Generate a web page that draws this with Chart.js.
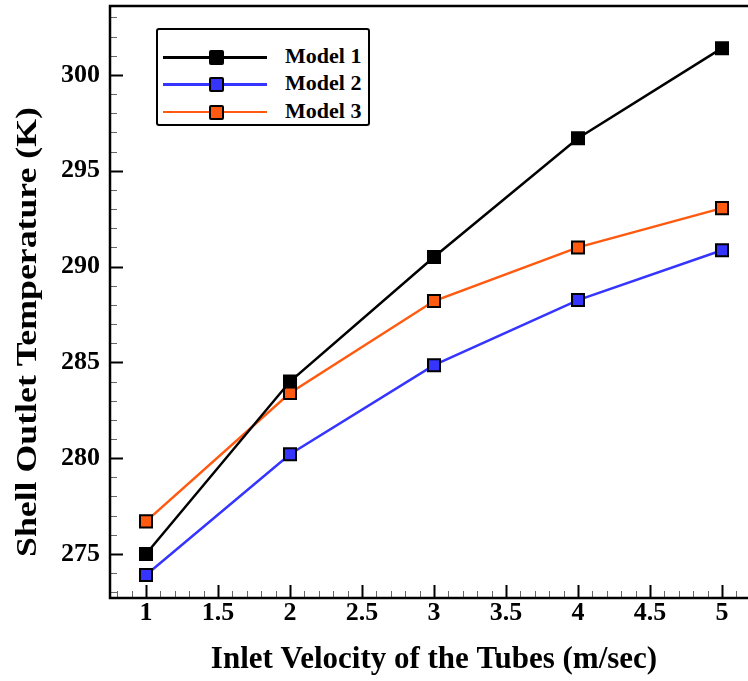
<!DOCTYPE html>
<html lang="en">
<head>
    <meta charset="UTF-8">
    <title>Shell Outlet Temperature vs Inlet Velocity</title>
    <script src="https://cdn.jsdelivr.net/npm/chart.js"></script>
    <style>
        html, body {
            margin: 0;
            padding: 0;
            background: #fff;
        }
        #wrap {
            position: relative;
            width: 748px;
            height: 681px;
            overflow: hidden;
        }
        #legend {
            position: absolute;
            left: 156px;
            top: 28px;
            width: 210px;
            height: 94px;
            border: 2px solid #000;
            border-radius: 3px;
            background: #fff;
            font-family: 'Liberation Serif', 'Times New Roman', serif;
            font-weight: bold;
            font-size: 22px;
        }
        .row {
            position: absolute;
            left: 0;
            height: 20px;
            width: 100%;
        }
        .row .ln {
            position: absolute;
            left: 5px;
            top: 9px;
            width: 104px;
            height: 2.5px;
        }
        .row .mk {
            position: absolute;
            left: 51px;
            top: 3px;
            width: 11px;
            height: 11px;
            border: 2px solid #000;
            border-radius: 2px;
        }
        .row .tx {
            position: absolute;
            left: 127px;
            top: -3px;
            line-height: 24px;
            color: #000;
        }
    </style>
</head>
<body>
<div id="wrap">
    <canvas id="tempChart" width="770" height="681"></canvas>
    <div id="legend"></div>
</div>
<script>
    // values
    const velocity = [1, 2, 3, 4, 5];
    const model1 = [275.0, 284.0, 290.5, 296.7, 301.4];
    const model2 = [273.9, 280.2, 284.85, 288.25, 290.85];
    const model3 = [276.7, 283.4, 288.2, 291.0, 293.05];

    const xTicks = [1, 1.5, 2, 2.5, 3, 3.5, 4, 4.5, 5];
    const yTicks = [275, 280, 285, 290, 295, 300];

    const xTitle = 'Inlet Velocity of the Tubes (m/sec)';
    const yTitle = 'Shell Outlet Temperature (K)';

    const serif = "'Liberation Serif', 'Times New Roman', serif";

    function pts(ys) {
        return velocity.map((x, i) => ({ x: x, y: ys[i] }));
    }

    // inward major / minor ticks, the plot frame and the y title
    const frameTicks = {
        id: 'frameTicks',
        beforeDatasetsDraw(chart) {
            let ctx = chart.ctx;
            let xs = chart.scales.x, ys = chart.scales.y;
            let area = chart.chartArea;
            ctx.save();
            for (let k = 8; k <= 52; k++) {
                let major = k % 5 === 0;
                let px = Math.round(xs.getPixelForValue(k / 10)) + 0.5;
                ctx.lineWidth = major ? 2 : 1;
                ctx.strokeStyle = major ? '#000' : '#666';
                ctx.beginPath();
                ctx.moveTo(px, area.bottom);
                ctx.lineTo(px, area.bottom - (major ? 13 : 7));
                ctx.stroke();
            }
            for (let v = 273; v <= 303; v++) {
                let major = v % 5 === 0;
                let py = Math.round(ys.getPixelForValue(v)) + 0.5;
                ctx.lineWidth = major ? 2 : 1;
                ctx.strokeStyle = major ? '#000' : '#666';
                ctx.beginPath();
                ctx.moveTo(area.left, py);
                ctx.lineTo(area.left + (major ? 13 : 7), py);
                ctx.stroke();
            }
            ctx.lineWidth = 2.5;
            ctx.strokeStyle = '#000';
            ctx.strokeRect(area.left, area.top, area.right - area.left, area.bottom - area.top);
            ctx.restore();
        },
        afterDraw(chart) {
            let ctx = chart.ctx;
            ctx.save();
            ctx.font = 'bold 30px ' + serif;
            let w = ctx.measureText(yTitle).width;
            ctx.translate(28, 332);
            ctx.rotate(-Math.PI / 2);
            ctx.scale(450 / w, 1);
            ctx.fillStyle = '#000';
            ctx.textAlign = 'center';
            ctx.textBaseline = 'middle';
            ctx.fillText(yTitle, 0, 0);
            ctx.restore();
        }
    };

    let ctx = document.getElementById('tempChart').getContext('2d');
    let tempChart = new Chart(ctx, {
        type: 'line',
        data: {
            datasets: [{
                label: 'Model 1',
                data: pts(model1),
                borderColor: '#000000',
                backgroundColor: '#000000',
                pointBorderColor: '#000000',
                pointBackgroundColor: '#000000'
            }, {
                label: 'Model 2',
                data: pts(model2),
                borderColor: '#3535ff',
                backgroundColor: '#3535ff',
                pointBorderColor: '#000000',
                pointBackgroundColor: '#3535ff'
            }, {
                label: 'Model 3',
                data: pts(model3),
                borderColor: '#ff5a10',
                backgroundColor: '#ff5a10',
                pointBorderColor: '#000000',
                pointBackgroundColor: '#ff5a10'
            }]
        },
        options: {
            responsive: false,
            animation: false,
            devicePixelRatio: 1,
            layout: {
                autoPadding: false,
                padding: { top: 6, right: 12, bottom: 0, left: 0 }
            },
            elements: {
                line: { borderWidth: 2.5, tension: 0 },
                point: { pointStyle: 'rect', radius: 8.5, borderWidth: 2 }
            },
            scales: {
                x: {
                    type: 'linear',
                    min: 0.75,
                    max: 5.25,
                    afterBuildTicks: s => { s.ticks = xTicks.map(v => ({ value: v })); },
                    afterFit: s => { s.height = 83; s.paddingLeft = 0; s.paddingRight = 0; },
                    grid: { display: false, drawTicks: false },
                    border: { display: false },
                    ticks: {
                        color: '#000',
                        padding: 2,
                        maxRotation: 0,
                        font: { family: serif, weight: 'bold', size: 26, lineHeight: 1 },
                        callback: v => String(v)
                    },
                    title: {
                        display: true,
                        text: xTitle,
                        color: '#000',
                        font: { family: serif, weight: 'bold', size: 31 },
                        padding: { top: 0, bottom: 2 }
                    }
                },
                y: {
                    min: 272.7,
                    max: 303.6,
                    afterBuildTicks: s => { s.ticks = yTicks.map(v => ({ value: v })); },
                    afterFit: s => { s.width = 110; s.paddingTop = 0; s.paddingBottom = 0; },
                    grid: { display: false, drawTicks: false },
                    border: { display: false },
                    ticks: {
                        color: '#000',
                        padding: 10,
                        font: { family: serif, weight: 'bold', size: 26 }
                    }
                }
            },
            plugins: {
                legend: { display: false },
                tooltip: { enabled: false }
            }
        },
        plugins: [frameTicks]
    });

    // legend box built from the chart datasets
    let legendBox = document.getElementById('legend');
    tempChart.data.datasets.forEach((ds, i) => {
        let row = document.createElement('div');
        row.className = 'row';
        row.style.top = (17 + i * 27.3) + 'px';
        row.innerHTML = '<div class="ln" style="background:' + ds.borderColor + '"></div>' +
                        '<div class="mk" style="background:' + ds.pointBackgroundColor + '"></div>' +
                        '<div class="tx">' + ds.label + '</div>';
        legendBox.appendChild(row);
    });
</script>
</body>
</html>
